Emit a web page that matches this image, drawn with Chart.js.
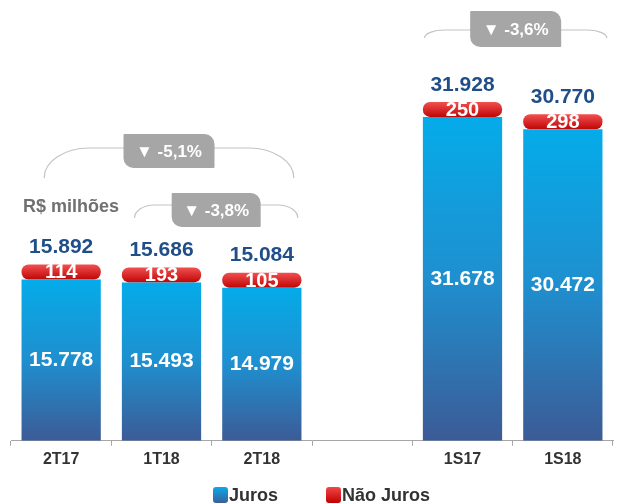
<!DOCTYPE html>
<html>
<head>
<meta charset="utf-8">
<script src="https://cdn.jsdelivr.net/npm/chart.js@4.4.1/dist/chart.umd.min.js"></script>
<style>
  html, body { margin: 0; padding: 0; background: #fff; }
  #wrap { position: relative; width: 619px; height: 504px; }
  #legend {
    position: absolute; left: 213px; top: 486px; height: 18px;
    display: flex; align-items: center;
    font: bold 18px Arial, 'Liberation Sans', sans-serif; color: #333; line-height: 18px;
  }
  .sw { width: 15px; height: 16px; border-radius: 3px; margin-right: 1px; }
</style>
</head>
<body>
<div id="wrap">
  <canvas id="chart" width="619" height="504"></canvas>
  <div id="legend">
    <span class="sw" id="swJuros"></span><span>Juros</span>
    <span class="sw" id="swNao" style="margin-left:48px"></span><span>Não Juros</span>
  </div>
</div>
<script>
// data
const categories = ['2T17', '1T18', '2T18', '', '1S17', '1S18'];
const juros = [15778, 15493, 14979, null, 31678, 30472];
const naoJuros = [114, 193, 105, null, 250, 298];

// comparison brackets
const bracketFrom = ['2T17', '1T18', '1S17'];
const bracketTo = ['2T18', '2T18', '1S18'];
const bracketText = ['▼ -5,1%', '▼ -3,8%', '▼ -3,6%'];

const FONT = "Arial, 'Liberation Sans', sans-serif";
const MIN_RED = 15;

// bracket geometry (pixels): offsets from category centres, heights
const bracketGeom = [
  { dx0: -17, dx1: 32, yTop: 148, yEnd: 178, rx: 45, boxY: 134, boxH: 34, boxW: 91 },
  { dx0: -27, dx1: 36, yTop: 205, yEnd: 218, rx: 20, boxY: 193, boxH: 34, boxW: 89 },
  { dx0: -38, dx1: 44, yTop: 30, yEnd: 38, rx: 20, boxY: 11, boxH: 36, boxW: 91 }
];

document.getElementById('swJuros').style.background = 'linear-gradient(#0aa9e8, #3a5f9a)';
document.getElementById('swNao').style.background = 'linear-gradient(#f04848, #c20000)';

function fmt(v) {
  return String(v).replace(/\B(?=(\d{3})+(?!\d))/g, '.');
}

function blueFill(ctx) {
  const chart = ctx.chart;
  const v = juros[ctx.dataIndex];
  if (!chart.chartArea || ctx.type !== 'data' || v == null) return '#1f8fcf';
  const y = chart.scales.y;
  const top = y.getPixelForValue(v);
  const bottom = y.getPixelForValue(0);
  const g = chart.ctx.createLinearGradient(0, top, 0, bottom);
  g.addColorStop(0, '#05abe9');
  g.addColorStop(0.5, '#1f8fcf');
  g.addColorStop(1, '#3c5b96');
  return g;
}

function redFill(ctx) {
  const chart = ctx.chart;
  const v = juros[ctx.dataIndex];
  if (!chart.chartArea || ctx.type !== 'data' || v == null) return '#d81818';
  const y = chart.scales.y;
  const base = y.getPixelForValue(v);
  const g = chart.ctx.createLinearGradient(0, base - MIN_RED, 0, base);
  g.addColorStop(0, '#f25050');
  g.addColorStop(1, '#c00606');
  return g;
}

function bracketPath(ctx, x0, x1, yTop, yEnd, rx) {
  const k = 0.5523;
  const ry = yEnd - yTop;
  ctx.beginPath();
  ctx.moveTo(x0, yEnd);
  ctx.bezierCurveTo(x0, yEnd - k * ry, x0 + rx - k * rx, yTop, x0 + rx, yTop);
  ctx.lineTo(x1 - rx, yTop);
  ctx.bezierCurveTo(x1 - rx + k * rx, yTop, x1, yEnd - k * ry, x1, yEnd);
  ctx.stroke();
}

const decorPlugin = {
  id: 'decor',
  afterDatasetsDraw(chart) {
    const ctx = chart.ctx;
    const x = chart.scales.x;
    ctx.save();
    ctx.textAlign = 'center';
    ctx.textBaseline = 'middle';

    const m0 = chart.getDatasetMeta(0);
    const m1 = chart.getDatasetMeta(1);
    m0.data.forEach(function (bar, i) {
      if (juros[i] == null) return;
      ctx.font = 'bold 21px ' + FONT;
      ctx.fillStyle = '#ffffff';
      ctx.fillText(fmt(juros[i]), bar.x, (bar.y + bar.base) / 2);
    });
    m1.data.forEach(function (bar, i) {
      if (naoJuros[i] == null) return;
      ctx.font = 'bold 20px ' + FONT;
      ctx.fillStyle = '#ffffff';
      ctx.fillText(fmt(naoJuros[i]), bar.x, (bar.y + bar.base) / 2 + 1);
      ctx.font = 'bold 21px ' + FONT;
      ctx.fillStyle = '#1f4e89';
      ctx.fillText(fmt(juros[i] + naoJuros[i]), bar.x, bar.y - 17);
    });

    // unit note
    ctx.textAlign = 'left';
    ctx.font = 'bold 18px ' + FONT;
    ctx.fillStyle = '#707070';
    ctx.fillText('R$ milhões', 23, 207);

    // brackets
    bracketFrom.forEach(function (from, i) {
      const gm = bracketGeom[i];
      const x0 = x.getPixelForValue(categories.indexOf(from)) + gm.dx0;
      const x1 = x.getPixelForValue(categories.indexOf(bracketTo[i])) + gm.dx1;
      ctx.strokeStyle = '#c4c4c4';
      ctx.lineWidth = 1.2;
      bracketPath(ctx, x0, x1, gm.yTop, gm.yEnd, gm.rx);
      const cx = (x0 + x1) / 2;
      ctx.fillStyle = '#a6a6a6';
      ctx.beginPath();
      ctx.roundRect(cx - gm.boxW / 2, gm.boxY, gm.boxW, gm.boxH, [1, 10, 1, 10]);
      ctx.fill();
      ctx.textAlign = 'center';
      ctx.font = 'bold 17px ' + FONT;
      ctx.fillStyle = '#ffffff';
      ctx.fillText(bracketText[i], cx, gm.boxY + gm.boxH / 2 + 1);
    });
    ctx.restore();
  }
};

new Chart(document.getElementById('chart'), {
  type: 'bar',
  data: {
    labels: categories,
    datasets: [
      {
        label: 'Juros',
        data: juros,
        backgroundColor: blueFill,
        barPercentage: 0.79,
        categoryPercentage: 1,
        stack: 's'
      },
      {
        label: 'Não Juros',
        data: naoJuros,
        backgroundColor: redFill,
        minBarLength: MIN_RED,
        borderRadius: 7,
        borderSkipped: false,
        barPercentage: 0.79,
        categoryPercentage: 1,
        stack: 's'
      }
    ]
  },
  options: {
    responsive: false,
    animation: false,
    devicePixelRatio: 1,
    layout: { padding: { left: 11, right: 6, top: 40, bottom: 31 } },
    plugins: {
      legend: { display: false },
      tooltip: { enabled: false }
    },
    scales: {
      x: {
        stacked: true,
        grid: { display: true, drawOnChartArea: false, color: '#a6a6a6', tickLength: 5, offset: true },
        border: { color: '#a6a6a6' },
        ticks: { color: '#333333', padding: 4, font: { family: FONT, size: 16, weight: 'bold' } }
      },
      y: {
        stacked: true,
        display: false,
        min: 0,
        max: 39200
      }
    }
  },
  plugins: [decorPlugin]
});
</script>
</body>
</html>
